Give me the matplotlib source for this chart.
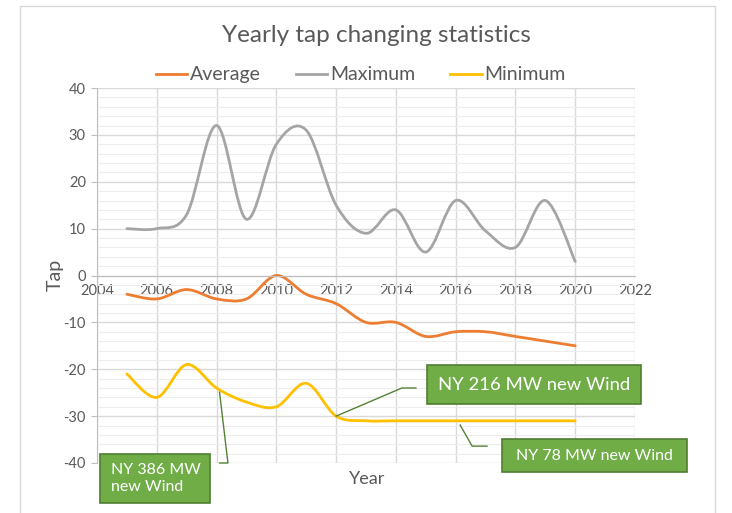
import numpy as np
import matplotlib
matplotlib.use("Agg")
import matplotlib.pyplot as plt
from matplotlib.path import Path
from matplotlib.patches import PathPatch, Rectangle
from matplotlib.lines import Line2D

years = [2005, 2006, 2007, 2008, 2009, 2010, 2011, 2012,
         2013, 2014, 2015, 2016, 2017, 2018, 2019, 2020]
average = [-4, -5, -3, -5, -5, 0, -4, -6, -10, -10, -13, -12, -12, -13, -14, -15]
maximum = [10, 10, 13, 32, 12, 28, 31, 15, 9, 14, 5, 16, 9.5, 6, 16, 3]
minimum = [-21, -26, -19, -24, -27, -28, -23, -30, -31, -31, -31, -31, -31, -31, -31, -31]

series_names = ["Average", "Maximum", "Minimum"]
colors = ["#ED7D31", "#A5A5A5", "#FFC000"]

plt.rcParams["font.family"] = ["Lato", "DejaVu Sans"]
plt.rcParams["axes.unicode_minus"] = False

W, H = 732, 513
fig = plt.figure(figsize=(W / 100, H / 100), dpi=100)


def px(x, y):
    # pixel (from top-left) -> figure fraction
    return x / W, 1 - y / H


def smooth_path(xs, ys):
    # Excel-like smoothed line: cubic bezier through the points
    p = np.column_stack([xs, ys]).astype(float)
    n = len(p)
    verts = [p[0]]
    codes = [Path.MOVETO]
    for i in range(n - 1):
        p0 = p[i - 1] if i > 0 else p[i]
        p3 = p[i + 2] if i + 2 < n else p[i + 1]
        c1 = p[i] + (p[i + 1] - p0) / 6
        c2 = p[i + 1] - (p3 - p[i]) / 6
        verts += [c1, c2, p[i + 1]]
        codes += [Path.CURVE4] * 3
    return Path(verts, codes)


# outer chart border
fig.patches.append(Rectangle(px(20, 560), 695 / W, 554 / H, transform=fig.transFigure,
                             fill=False, edgecolor="#D9D9D9", lw=1))

l, b = px(97, 463)
r, t = px(635, 88)
ax = fig.add_axes([l, b, r - l, t - b])
ax.set_xlim(2004, 2022)
ax.set_ylim(-40, 40)
ax.set_xticks(range(2004, 2023, 2))
ax.set_yticks(range(-40, 41, 10))
ax.set_yticks(range(-40, 41, 2), minor=True)
ax.grid(True, which="major", color="#D9D9D9", lw=1)
ax.grid(True, which="minor", axis="y", color="#EDEDED", lw=0.8)
ax.set_axisbelow(True)
for s in ["top", "right"]:
    ax.spines[s].set_visible(False)
ax.spines["bottom"].set_position(("data", 0))
ax.spines["bottom"].set_color("#BFBFBF")
ax.spines["left"].set_color("#BFBFBF")
ax.tick_params(axis="x", length=0, pad=6, labelsize=10.5, labelcolor="#595959")
ax.tick_params(axis="y", which="major", length=4, color="#BFBFBF", pad=4,
               labelsize=10.5, labelcolor="#595959")
ax.tick_params(axis="y", which="minor", length=0)

for vals, c in zip([average, maximum, minimum], colors):
    ax.add_patch(PathPatch(smooth_path(years, vals), fill=False, edgecolor=c,
                           lw=2, capstyle="round", joinstyle="round"))

fig.text(*px(55, 275), "Tap", fontsize=14, color="#595959", ha="center", va="center",
         rotation=90)
fig.text(*px(367, 479), "Year", fontsize=13, color="#595959", ha="center", va="center")

fig.text(*px(376, 36), "Yearly tap changing statistics", fontsize=17.5,
         color="#595959", ha="center", va="center")

handles = [Line2D([], [], color=c, lw=2) for c in colors]
fig.legend(handles, series_names, loc="center", bbox_to_anchor=px(361, 75), ncol=3,
           frameon=False, fontsize=14, handlelength=1.6, handletextpad=0.15,
           columnspacing=1.8, labelcolor="#595959")

# annotation leader lines
green = "#548235"
ax.plot([2012, 2014.2, 2014.67], [-30, -24, -24], color=green, lw=1, clip_on=False)
ax.plot([2016.15, 2016.55, 2017.05], [-31.9, -36.4, -36.4], color=green, lw=1, clip_on=False)
ax.plot([2008.1, 2008.38, 2008.1], [-24.9, -40, -40], color=green, lw=1, clip_on=False)


def note(x0, y0, x1, y1, text, size, ha="center", tx=None):
    fx, fy = px(x0, y1)
    fig.patches.append(Rectangle((fx, fy), (x1 - x0) / W, (y1 - y0) / H,
                                 transform=fig.transFigure, facecolor="#70AD47",
                                 edgecolor="#507E32", lw=1.2, zorder=5))
    cx = (x0 + x1) / 2 if tx is None else tx
    fig.text(*px(cx, (y0 + y1) / 2), text, color="white", fontsize=size,
             ha=ha, va="center", zorder=6, linespacing=1.35)


note(427, 365, 641, 404, "NY 216 MW new Wind", 13.3)
note(502, 439, 687, 472, "NY 78 MW new Wind", 11.5)
note(100, 454, 210, 503, "NY 386 MW\nnew Wind", 11.5, ha="left", tx=111)

fig.savefig("out.png", dpi=100)
